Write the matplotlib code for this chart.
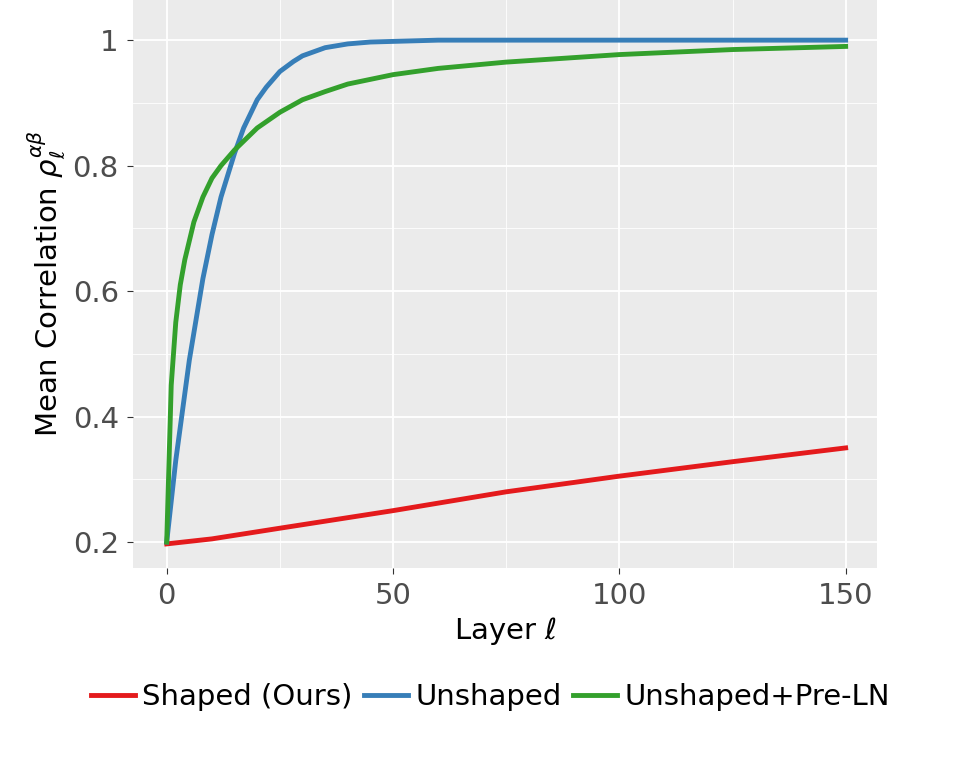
import matplotlib
matplotlib.use("Agg")
import matplotlib.pyplot as plt
import numpy as np

blue_x = [0, 2, 5, 8, 10, 12, 15, 17, 20, 22, 25, 28, 30, 35, 40, 45, 50, 60, 150]
blue_y = [0.2, 0.33, 0.49, 0.62, 0.69, 0.75, 0.82, 0.86, 0.905, 0.925, 0.95, 0.966, 0.975, 0.988, 0.994, 0.997, 0.998, 1.0, 1.0]
green_x = [0, 1, 2, 3, 4, 6, 8, 10, 12, 15, 20, 25, 30, 35, 40, 50, 60, 75, 100, 125, 150]
green_y = [0.2, 0.45, 0.55, 0.61, 0.65, 0.71, 0.75, 0.78, 0.8, 0.825, 0.86, 0.885, 0.905, 0.918, 0.93, 0.945, 0.955, 0.965, 0.977, 0.985, 0.99]
red_x = [0, 10, 25, 50, 75, 100, 125, 150]
red_y = [0.197, 0.205, 0.222, 0.25, 0.28, 0.305, 0.328, 0.35]

fig = plt.figure(figsize=(9.62, 7.59), dpi=100)
ax = fig.add_axes([0.138, 0.252, 0.774, 0.748])
ax.set_facecolor('#EBEBEB')
for s in ax.spines.values():
    s.set_visible(False)
ax.set_xticks([25, 75, 125], minor=True)
ax.set_yticks([0.3, 0.5, 0.7, 0.9], minor=True)
ax.set_xticks([0, 50, 100, 150])
ax.set_yticks([0.2, 0.4, 0.6, 0.8, 1.0])
ax.set_yticklabels(['0.2', '0.4', '0.6', '0.8', '1'])
ax.grid(True, which='major', color='white', lw=1.3)
ax.grid(True, which='minor', color='white', lw=0.6)
ax.set_axisbelow(True)
ax.tick_params(which='both', length=0, labelsize=21, labelcolor='#4D4D4D', pad=6)
ax.tick_params(which='major', length=4, color='#333333')

ax.plot(red_x, red_y, color='#E41A1C', lw=3.5, label='Shaped (Ours)')
ax.plot(blue_x, blue_y, color='#377EB8', lw=3.5, label='Unshaped')
ax.plot(green_x, green_y, color='#33A02C', lw=3.5, label='Unshaped+Pre-LN')
ax.set_xlim(-7.5, 157)
ax.set_ylim(0.159, 1.064)
ax.set_xlabel(r'Layer $\ell$', fontsize=21)
ax.set_ylabel(r'Mean Correlation $\rho_\ell^{\alpha\beta}$', fontsize=21)
fig.legend(loc='center', bbox_to_anchor=(0.51, 0.082), ncol=3, frameon=False,
           fontsize=21, handlelength=1.5, handletextpad=0.25, columnspacing=0.4)
fig.savefig('out.png', dpi=100)
